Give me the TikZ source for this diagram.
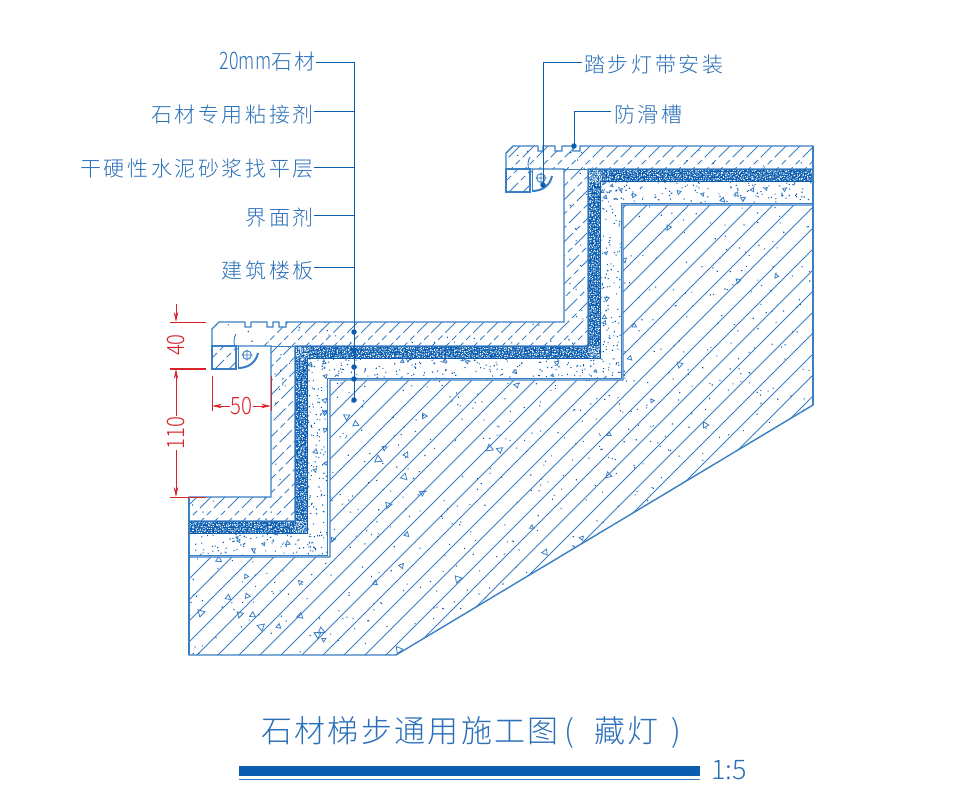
\documentclass[tikz,border=0pt]{standalone}
\usepackage{fontspec}
\usetikzlibrary{positioning,arrows.meta}
\newfontfamily\cjk[LetterSpace=12.5]{Noto Sans CJK SC Light}
\newfontfamily\cjktitle[LetterSpace=7.5]{Noto Sans CJK SC Light}
\newfontfamily\numfont{Noto Sans CJK SC Light}
\definecolor{cadblue}{HTML}{2A6FB8}
\definecolor{cadline}{HTML}{3A7EC4}
\definecolor{cadink}{HTML}{0B5DB0}
\definecolor{cadred}{HTML}{D8232A}
\tikzset{
  outl/.style  = {draw=cadline, line width=1.4pt, line join=miter},
  hatchs/.style = {draw=cadline, line width=.9pt, dash pattern=on 17pt off 4pt on 6pt off 4pt},
  hatchc/.style = {draw=cadline, line width=1pt},
  ldr/.style   = {draw=cadink, line width=1pt},
  lab/.style   = {font=\cjk\fontsize{21}{24}\selectfont, text=cadblue, inner sep=0pt},
  jdot/.style  = {circle, fill=cadink, inner sep=0pt, minimum size=5.5pt},
  dimln/.style = {draw=cadred, line width=.9pt},
  dimtip/.style = {-{Stealth[length=10pt,width=4.5pt]}},
  dimtxt/.style = {font=\numfont\fontsize{24}{26}\selectfont, text=cadred, fill=white, inner sep=1pt},
  tri/.style   = {draw=cadline, line width=.8pt}
}
% stipple: x1,y1,x2,y2,count,colour
\newcommand{\stipple}[6]{%
  \fill[#6] foreach \n in {1,...,#5} {
    ({#1+rnd*(#3-#1)},{#2+rnd*(#4-#2)}) rectangle ++(1.1,1.1)
  };}
% even white speckle on the bed: x1,y1,x2,y2
\newcommand{\speckle}[4]{%
  \fill[white] foreach \sx in {#1,\the\numexpr#1+2\relax,...,#3} {
    foreach \sy in {#2,\the\numexpr#2+2\relax,...,#4} {
      ({\sx+rnd*1.6},{\sy+rnd*1.6}) rectangle ++(.95,.95)
    }
  };}
% random little triangles: x1,y1,x2,y2,count,size
\newcommand{\trisin}[6]{%
  \foreach \n in {1,...,#5} {
    \pgfmathsetmacro{\tx}{#1+rnd*(#3-#1)}
    \pgfmathsetmacro{\ty}{#2+rnd*(#4-#2)}
    \pgfmathsetmacro{\ta}{rnd*360}
    \pgfmathsetmacro{\ts}{#6*(.8+rnd*.8)}
    \draw[tri] (\tx,\ty) ++(\ta:\ts) -- ++(\ta+150:1.7*\ts) -- ++(\ta+270:1.7*\ts) -- cycle;
  }}
\newcommand{\stonepath}{(813,146) -- (580,146) -- (580,151) -- (573,151) -- (573,146) -- (562,146) -- (562,151) -- (555,151) -- (555,146) -- (543,146) -- (543,151) -- (538,151) -- (538,146) -- (513,146) -- (506,153) -- (506,169) -- (564,169) -- (564,322) -- (286,322) -- (286,327) -- (279,327) -- (279,322) -- (273,322) -- (273,327) -- (267,327) -- (267,322) -- (251,322) -- (251,327) -- (245,327) -- (245,322) -- (219,322) -- (212,329) -- (212,346) -- (271,346) -- (271,497) -- (189,497) -- (189,521) -- (295,521) -- (295,346) -- (588,346) -- (588,169) -- (813,169) -- cycle}
\newcommand{\slabpath}{(813,205) -- (623,205) -- (623,380) -- (330,380) -- (330,557) -- (189,557) -- (189,655) -- (396,655) -- (813,405) -- cycle}
\newcommand{\bedpath}{(813,169) -- (588,169) -- (588,346) -- (295,346) -- (295,521) -- (189,521) -- (189,533) -- (307,533) -- (307,358) -- (600,358) -- (600,181) -- (813,181) -- cycle}
\newcommand{\screedpath}{(813,181) -- (600,181) -- (600,358) -- (307,358) -- (307,533) -- (189,533) -- (189,555) -- (327,555) -- (327,378) -- (621,378) -- (621,203) -- (813,203) -- cycle}
\begin{document}
\begin{tikzpicture}[x=1pt,y=-1pt]
  \useasboundingbox (0,0) rectangle (977,809);
  \pgfmathsetseed{11}
  % slab
  \begin{scope}
    \clip \slabpath;
    \foreach \k in {0,21,...,1100} {
      \draw[hatchc] (\k-60,660) -- (\k+440,160);
    }
    \stipple{189}{205}{813}{655}{1000}{cadink}
    \trisin{330}{205}{813}{655}{70}{2.8}
    \trisin{189}{557}{330}{655}{14}{2.8}
  \end{scope}
  \draw[outl] \slabpath;
  \draw[outl,line width=.9pt] (813,203) -- (621,203) -- (621,378) -- (327,378) -- (327,555) -- (189,555);
  % screed
  \begin{scope}
    \clip \screedpath;
    \stipple{600}{181}{813}{203}{120}{cadink}
    \stipple{600}{181}{621}{378}{110}{cadink}
    \stipple{307}{358}{621}{378}{170}{cadink}
    \stipple{307}{358}{327}{555}{110}{cadink}
    \stipple{189}{533}{327}{555}{85}{cadink}
    \trisin{600}{181}{813}{203}{10}{1.8}
    \trisin{600}{181}{621}{378}{8}{1.8}
    \trisin{307}{358}{621}{378}{11}{1.8}
    \trisin{307}{358}{327}{555}{8}{1.8}
    \trisin{189}{533}{327}{555}{6}{1.8}
  \end{scope}
  % adhesive bed
  \fill[cadink] \bedpath;
  \begin{scope}
    \clip \bedpath;
    \speckle{588}{169}{813}{181}
    \speckle{588}{169}{600}{358}
    \speckle{295}{346}{600}{358}
    \speckle{295}{346}{307}{533}
    \speckle{189}{521}{307}{533}
  \end{scope}
  \draw[draw=cadink,line width=.8pt] \bedpath;
  % stone
  \begin{scope}
    \clip \stonepath;
    \foreach \k in {0,14,...,800} {
      \draw[hatchs] (\k+80,530) -- (\k+480,130);
    }
    \stipple{189}{146}{813}{521}{600}{cadink}
  \end{scope}
  \draw[outl] \stonepath;
  \draw[outl,line width=.9pt] (564,169) -- (588,169) (271,346) -- (295,346);
  \draw[outl] (813,146) -- (813,405) (189,497) -- (189,655);
  % nosing blocks and lamps
  \foreach \bx/\by in {212/346,506/169} {
    \begin{scope}[shift={(\bx,\by)}]
      \begin{scope}
        \clip (0,0) rectangle (24,23);
        \foreach \k in {-28,-14,...,42} {
          \draw[hatchs] (\k,26) -- (\k+26,0);
        }
      \end{scope}
      \draw[outl] (0,0) rectangle (24,23);
      \draw[outl,line width=.9pt] (26,0) -- (26,21);
      \draw[outl,line width=.9pt] (26,3) arc[start angle=90,end angle=-60,x radius=-4,y radius=8];
      \draw[outl,line width=.9pt] (35,9) circle[radius=4.4] (29.5,9) -- (40.5,9) (35,3.5) -- (35,14.5);
      \draw[cadline,line width=2pt] (26,22) .. controls (37,22) and (44,16) .. (46,7);
    \end{scope}
  }
  % leaders
  \node[lab,anchor=east] (stone) at (316,62) {\numfont\scalebox{.85}[1.15]{20mm}\cjk 石材};
  \node[lab,anchor=east] (glue) at (314,115) {石材专用粘接剂};
  \node[lab,anchor=east] (mortar) at (314,169) {干硬性水泥砂浆找平层};
  \node[lab,anchor=east] (prime) at (314,218) {界面剂};
  \node[lab,anchor=east] (floor) at (314,270) {建筑楼板};
  \node[lab,anchor=west] (lamp) at (584,65) {踏步灯带安装};
  \node[lab,anchor=west] (slot) at (614,115) {防滑槽};
  \coordinate (busA) at (354,62);
  \coordinate (busB) at (354,111);
  \coordinate (busC) at (354,167);
  \coordinate (busD) at (354,215);
  \coordinate (busE) at (354,267);
  \node[jdot] (d1) at (354,332) {};
  \node[jdot] (d2) at (354,350) {};
  \node[jdot] (d3) at (354,367) {};
  \node[jdot] (d4) at (354,379) {};
  \node[jdot] (d5) at (354,400) {};
  \node[jdot] (d6) at (543,185) {};
  \node[jdot] (d7) at (574,146) {};
  \coordinate (kneeA) at (543,62);
  \coordinate (kneeB) at (574,111);
  \draw[ldr] (stone.east) -- (busA) -- (d5.center);
  \draw[ldr] (314,111) -- (busB);
  \draw[ldr] (314,167) -- (busC);
  \draw[ldr] (314,215) -- (busD);
  \draw[ldr] (314,267) -- (busE);
  \draw[ldr] (lamp.west) ++(-2,-3) -- (kneeA) -- (d6.center);
  \draw[ldr] (slot.west) ++(-3,-4) -- (kneeB) -- (d7.center);
  % dimensions
  \coordinate (ta) at (176,322);
  \coordinate (tb) at (176,369);
  \coordinate (tc) at (176,497);
  \draw[dimln] (170,322) -- (206,322);
  \draw[dimln,line width=1.5pt] (170,369) -- (206,369);
  \draw[dimln] (170,497.5) -- (206,497.5);
  \draw[dimln,dimtip] (176,304) -- (ta);
  \node[dimtxt,rotate=90,xscale=.85] (d40) at (176,345) {40};
  \node[dimtxt,rotate=90,xscale=.85] (d110) at (176,433) {110};
  \draw[dimln,dimtip] (d110.east) -- (tb);
  \draw[dimln,dimtip] (d110.west) -- (tc);
  \draw[dimln] (212,376) -- (212,411);
  \draw[dimln] (271,376) -- (271,411);
  \node[dimtxt,xscale=.85] (d50) at (241.5,406) {50};
  \draw[dimln,dimtip] (d50.west) -- (212,406);
  \draw[dimln,dimtip] (d50.east) -- (271,406);
  % title
  \node[font=\cjktitle\fontsize{31}{34}\selectfont,text=cadblue,inner sep=0pt,anchor=west] (title) at (261,733) {石材梯步通用施工图\hspace{6pt}(\hspace{20pt}藏灯\hspace{13pt})};
  \fill[cadink] (239,766) rectangle (700,776);
  \draw[cadline,line width=.8pt] (239,779) -- (700,779);
  \node[font=\numfont\fontsize{27}{28}\selectfont,text=cadblue,inner sep=0pt,anchor=west] (scale) at (711,770) {1:5};
\end{tikzpicture}
\end{document}
